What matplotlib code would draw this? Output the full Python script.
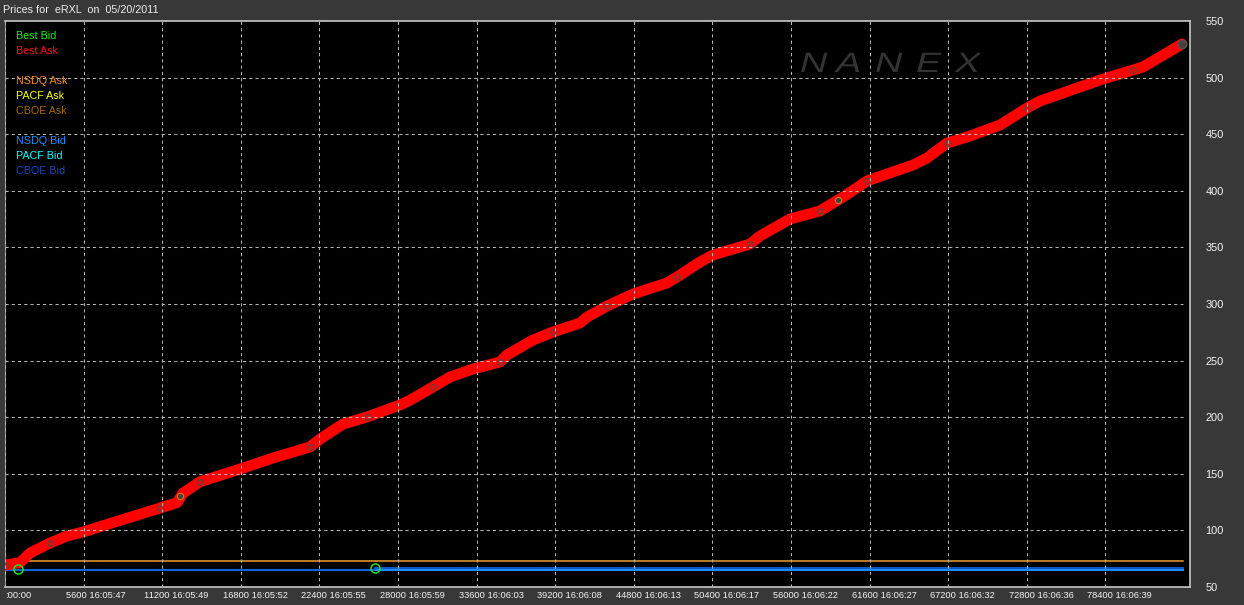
import matplotlib
matplotlib.use("Agg")
import matplotlib.pyplot as plt
from matplotlib.textpath import TextPath
from matplotlib.patches import PathPatch
from matplotlib.font_manager import FontProperties
from matplotlib.transforms import Affine2D, blended_transform_factory, ScaledTranslation

# ---------------- data ----------------
title = "Prices for  eRXL  on  05/20/2011"

ask_x = [0, 1069, 1781, 3206, 4418, 5558, 11044, 12255, 12683, 13894, 16744,
         19095, 21731, 22444, 24083, 25793, 28144, 28856, 30495, 31706, 33345,
         35269, 35768, 37620, 39045, 40969, 41468, 42893, 44745, 47168, 47880,
         49519, 50445, 53081, 53794, 55931, 58069, 58995, 59708, 61418, 64695,
         65693, 67118, 68543, 70894, 72818, 73744, 78019, 80370, 81083, 83861]
ask_y = [69.4, 71.5, 80.0, 88.9, 95.1, 98.6, 119.8, 124.5, 133.0, 143.0, 154.2,
         164.0, 173.7, 180.7, 194.0, 200.2, 210.8, 215.0, 226.7, 235.5, 242.6,
         248.8, 255.0, 268.2, 275.3, 283.2, 288.5, 298.2, 308.8, 318.6, 323.9,
         337.1, 343.3, 353.0, 360.1, 375.1, 382.2, 389.2, 394.5, 408.7, 422.8,
         429.0, 442.2, 447.5, 458.1, 473.1, 479.3, 497.9, 506.7, 509.4, 529.7]

x_end = 83900
nsdq_ask_level = 72.7
cboe_bid_x = [0, 26362, 26362, x_end]
cboe_bid_y = [65.0, 65.0, 66.8, 66.8]
nsdq_bid_level = 65.0

best_bid_mark_x = [926, 26362]
best_bid_mark_y = [65.9, 66.8]
ask_mark_x = [12469, 59350]
ask_mark_y = [130.4, 391.9]

xticks = [0, 5600, 11200, 16800, 22400, 28000, 33600, 39200, 44800, 50400,
          56000, 61600, 67200, 72800, 78400]
xtick_labels = [":00:00", "5600 16:05:47", "11200 16:05:49", "16800 16:05:52",
                "22400 16:05:55", "28000 16:05:59", "33600 16:06:03",
                "39200 16:06:08", "44800 16:06:13", "50400 16:06:17",
                "56000 16:06:22", "61600 16:06:27", "67200 16:06:32",
                "72800 16:06:36", "78400 16:06:39"]
yticks = [50, 100, 150, 200, 250, 300, 350, 400, 450, 500, 550]
hgrid = [100, 150, 200, 250, 300, 350, 400, 450, 500]

legend_names = ["Best Bid", "Best Ask", "", "NSDQ Ask", "PACF Ask", "CBOE Ask",
                "", "NSDQ Bid", "PACF Bid", "CBOE Bid"]
legend_colors = ["#10f010", "#ff1010", None, "#f08c20", "#ffff00", "#a86a10",
                 None, "#1e90ff", "#00ffff", "#1048b8"]

# ---------------- figure ----------------
W, H = 1244, 605
fig = plt.figure(figsize=(W / 100, H / 100), dpi=100, facecolor="#383838")
L, R, T, B = 5, 1190, 21, 587
ax = fig.add_axes([L / W, (H - B) / H, (R - L) / W, (B - T) / H])
ax.set_facecolor("black")
ax.set_xlim(0, 84431)
ax.set_ylim(50, 550)

font = "Liberation Sans"
grid_c = "#b4b4b4"
dash = (0, (3, 3))

for xv in xticks:
    ax.axvline(xv, color=grid_c, lw=0.75, ls=dash, zorder=6)
ax.hlines(hgrid, 0, x_end, color=grid_c, lw=0.75, ls=dash, zorder=6)

# static exchange quote lines
ax.plot([0, x_end], [nsdq_ask_level] * 2, color="#f0a030", lw=1.1, zorder=2)
ax.plot([0, x_end], [nsdq_bid_level] * 2, color="#1e8cff", lw=1.5, zorder=2)
ax.plot(cboe_bid_x, cboe_bid_y, color="#1060d8", lw=1.3, zorder=2)

# best ask
ax.plot(ask_x, ask_y, color="#ff0000", lw=7.8, solid_capstyle="round",
        solid_joinstyle="round", zorder=3)
ax.plot(ask_x[::3], ask_y[::3], ls="none", marker="o", ms=4, mfc="none",
        mec="#4a4a4a", mew=0.8, zorder=4)
ax.plot(ask_x[-1:], ask_y[-1:], ls="none", marker="o", ms=6, mfc="#404040",
        mec="#505050", mew=1, zorder=4)
ax.plot(ask_mark_x, ask_mark_y, ls="none", marker="o", ms=4.5, mfc="#404040",
        mec="#c07818", mew=0.9, zorder=5)
ax.plot(best_bid_mark_x, best_bid_mark_y, ls="none", marker="o", ms=6.5,
        mfc="none", mec="#20e020", mew=1.1, zorder=5)

# spines / ticks
for s in ["top", "right", "bottom"]:
    ax.spines[s].set_color("#c8c8c8")
    ax.spines[s].set_linewidth(1.2)
ax.spines["left"].set_color("#909090")
ax.set_xticks([])
ax.yaxis.tick_right()
ax.set_yticks(yticks)
ax.set_yticklabels([str(v) for v in yticks])
ax.tick_params(axis="y", length=0, pad=11, labelcolor="#f4f4f4",
               labelsize=7.9)
for lab in ax.get_yticklabels():
    lab.set_family(font)

# x labels (left aligned, 18 px left of the tick)
btrans = blended_transform_factory(ax.transData, ax.transAxes)
for i, (xv, lab) in enumerate(zip(xticks, xtick_labels)):
    off = 0 if i == 0 else -18
    tr = btrans + ScaledTranslation(off / 100, -9 / 100, fig.dpi_scale_trans)
    ax.text(xv, 0, lab, transform=tr, ha="left", va="center", color="#f4f4f4",
            fontsize=6.7, family=font, clip_on=False)

# title
fig.text(3 / W, 1 - 10 / H, title, ha="left", va="center", color="#ececec",
         fontsize=7.75, family=font)

# legend texts
for i, (name, c) in enumerate(zip(legend_names, legend_colors)):
    if not name:
        continue
    y = 36 + 15 * i
    fig.text(16 / W, 1 - y / H, name, ha="left", va="center", color=c,
             fontsize=7.75, family=font)

# NANEX watermark (stretched italic letters)
fp = FontProperties(family=font, style="italic")
letters = ["N", "A", "N", "E", "X"]
lx = [800, 836, 875, 916, 955]
for ch, x0 in zip(letters, lx):
    tp = TextPath((0, 0), ch, size=28, prop=fp)
    tr = (Affine2D().scale(1.35, 1.0).translate(x0, H - 72).scale(1 / 100)
          + fig.dpi_scale_trans)
    fig.patches.append(PathPatch(tp, transform=tr, facecolor="#333333",
                                 edgecolor="none", zorder=2))

fig.savefig("out.png", dpi=100, facecolor=fig.get_facecolor())
